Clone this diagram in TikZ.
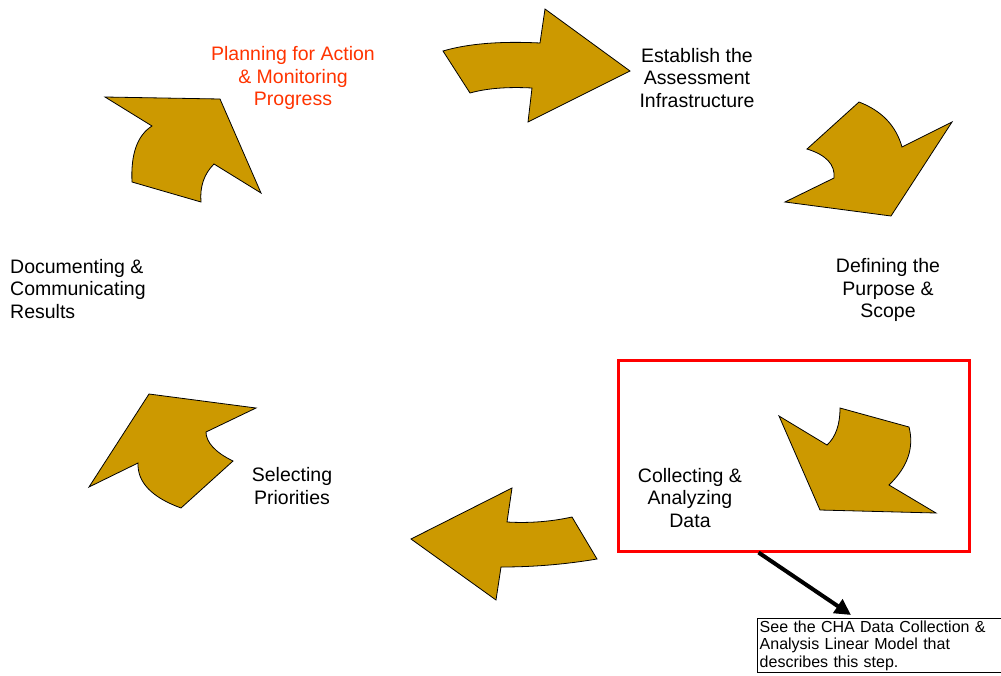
\documentclass[tikz,border=0pt]{standalone}
\usepackage{fontspec}
\setmainfont{Liberation Sans}
\usetikzlibrary{arrows.meta,positioning}
\definecolor{gold}{RGB}{204,153,0}
\definecolor{alert}{RGB}{255,51,0}
\tikzset{
  turn/.style={fill=gold, draw=black, line width=0.8pt, line join=miter},
  stage/.style={font=\fontsize{19.5}{22.5}\selectfont, align=center, inner sep=0pt},
  note/.style={draw=black, line width=1.4pt, font=\fontsize{16}{17.5}\selectfont,
    align=left, text width=250pt, minimum height=54pt, inner sep=2pt},
  pointer/.style={line width=4pt, -{Triangle[length=16pt,width=16pt]}},
}

\begin{document}
\begin{tikzpicture}[x=1pt, y=-1pt]
\useasboundingbox (0,0) rectangle (1001,675);

% curved arrows round the cycle
\draw[turn] (105,97) -- (220,99) -- (261,193) -- (214,164)
  .. controls (204,174) and (199.7,186.7) .. (201,202) -- (132,182)
  .. controls (130.7,154) and (137.3,135.3) .. (152,126) -- cycle;
\draw[turn] (443,51) .. controls (467.7,43.7) and (500,41) .. (540,43)
  -- (545,9) -- (630,71) -- (528,122) -- (532,88)
  .. controls (507.3,86.7) and (486.7,88.3) .. (470,93) -- cycle;
\draw[turn] (807,149) -- (859,102) .. controls (881.7,110.7) and (896,125.7) .. (902,147)
  -- (952,122) -- (891,216) -- (785,202) -- (834,178)
  .. controls (835.3,164.7) and (826.3,155) .. (807,149) -- cycle;
\draw[turn] (779,416) -- (827,445) .. controls (835.7,437) and (840,424.7) .. (840,408)
  -- (909,427) .. controls (914.3,447.7) and (907.7,467) .. (889,485)
  -- (936,513) -- (820,510) -- cycle;
\draw[turn] (411,539) -- (512,488) -- (507,522)
  .. controls (529,523.3) and (550.7,521.7) .. (572,517) -- (597,559)
  .. controls (565.7,564.3) and (533.7,567) .. (501,567) -- (496,600) -- cycle;
\draw[turn] (149,394) -- (256,408) -- (206,432)
  .. controls (206,442) and (215,452.3) .. (233,461) -- (181,508)
  .. controls (151.7,497.3) and (137.3,482.3) .. (138,463) -- (89,487) -- cycle;

% stage labels
\node[stage, text=alert] (plan) at (293,78) {Planning for Action\\\& Monitoring\\Progress};
\node[stage] (infra) at (697,78) {Establish the\\Assessment\\Infrastructure};
\node[stage] (scope) at (888,290) {Defining the\\Purpose \&\\Scope};
\node[stage] (data) at (690,498) {Collecting \&\\Analyzing\\Data};
\node[stage] (prio) at (292,486) {Selecting\\Priorities};
\node[stage, align=left, anchor=west] (docs) at (10,289) {Documenting \&\\Communicating\\Results};

% highlighted step and its pointer
\node[draw=red, line width=3pt, minimum width=351pt, minimum height=191pt] (focus) at (793.5,455.5) {};
\node[note, anchor=north west] (hint) at (757,618) {See the CHA Data Collection \&\\Analysis Linear Model that\\describes this step.};
\draw[pointer] ([shift={(-35,0)}]focus.south) -- ([shift={(94,-3)}]hint.north west);
\end{tikzpicture}
\end{document}
